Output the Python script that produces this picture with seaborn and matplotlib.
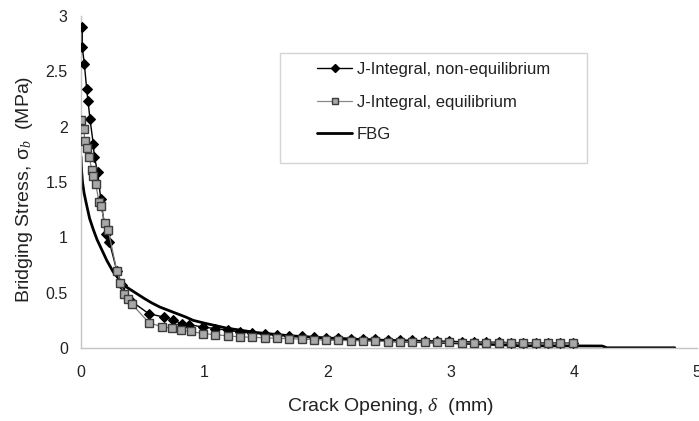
import numpy as np
import pandas as pd
import matplotlib
matplotlib.use("Agg")
import matplotlib.pyplot as plt
from matplotlib.lines import Line2D
from matplotlib.patches import Rectangle
import seaborn as sns

# ---- data ----
ne_x = [0.01, 0.01, 0.027, 0.046, 0.057, 0.073, 0.10, 0.108, 0.135, 0.16, 0.20, 0.23,
        0.29, 0.33, 0.40, 0.55, 0.67, 0.75, 0.82, 0.88, 0.99,
        1.09, 1.19, 1.29, 1.39, 1.49, 1.59, 1.69, 1.79, 1.89, 1.99,
        2.09, 2.19, 2.29, 2.39, 2.49, 2.59, 2.69, 2.79, 2.89, 2.99,
        3.09, 3.19, 3.29, 3.39, 3.49, 3.59, 3.69, 3.79, 3.89, 3.99]
ne_y = [2.90, 2.72, 2.57, 2.34, 2.23, 2.07, 1.84, 1.73, 1.59, 1.35, 1.03, 0.96,
        0.70, 0.57, 0.43, 0.31, 0.28, 0.25, 0.22, 0.21, 0.19,
        0.175, 0.16, 0.145, 0.135, 0.125, 0.118, 0.11, 0.104, 0.098, 0.093,
        0.089, 0.085, 0.082, 0.078, 0.075, 0.072, 0.069, 0.066, 0.063, 0.060,
        0.057, 0.055, 0.053, 0.051, 0.049, 0.048, 0.047, 0.046, 0.045, 0.044]

eq_x = [0.0, 0.024, 0.03, 0.046, 0.067, 0.087, 0.10, 0.12, 0.146, 0.16, 0.195, 0.22,
        0.29, 0.32, 0.35, 0.38, 0.41, 0.55, 0.66, 0.74, 0.81, 0.89, 0.99,
        1.09, 1.19, 1.29, 1.39, 1.49, 1.59, 1.69, 1.79, 1.89, 1.99,
        2.09, 2.19, 2.29, 2.39, 2.49, 2.59, 2.69, 2.79, 2.89, 2.99,
        3.09, 3.19, 3.29, 3.39, 3.49, 3.59, 3.69, 3.79, 3.89, 3.99]
eq_y = [2.06, 1.98, 1.87, 1.81, 1.73, 1.61, 1.55, 1.48, 1.32, 1.28, 1.13, 1.07,
        0.70, 0.59, 0.49, 0.44, 0.40, 0.23, 0.19, 0.18, 0.16, 0.15, 0.13,
        0.12, 0.11, 0.10, 0.097, 0.092, 0.088, 0.084, 0.080, 0.076, 0.070,
        0.068, 0.066, 0.064, 0.062, 0.058, 0.057, 0.056, 0.055, 0.053, 0.050,
        0.048, 0.047, 0.046, 0.045, 0.045, 0.044, 0.044, 0.043, 0.043, 0.042]

fbg_x = [0.0, 0.005, 0.012, 0.025, 0.046, 0.07, 0.10, 0.13, 0.17, 0.21, 0.26, 0.31,
         0.37, 0.44, 0.51, 0.57, 0.64, 0.71, 0.78, 0.85, 0.91, 1.0, 1.18, 1.42,
         1.7, 2.0, 2.5, 3.0, 3.5, 3.55, 4.23, 4.27, 4.82]
fbg_y = [1.73, 1.60, 1.50, 1.40, 1.29, 1.17, 1.07, 0.98, 0.885, 0.79, 0.69, 0.62,
         0.55, 0.50, 0.45, 0.41, 0.37, 0.34, 0.31, 0.28, 0.25, 0.225, 0.18, 0.14,
         0.11, 0.09, 0.065, 0.048, 0.025, 0.02, 0.018, 0.002, 0.002]

labels = ["J-Integral, non-equilibrium", "J-Integral, equilibrium", "FBG"]
x_ticks = [0, 1, 2, 3, 4, 5]
y_ticks = [0, 0.5, 1, 1.5, 2, 2.5, 3]
y_tick_labels = ["0", "0.5", "1", "1.5", "2", "2.5", "3"]

# ---- style ----
sns.set_theme(style="white")
plt.rcParams["font.family"] = ["Liberation Sans", "DejaVu Sans"]
plt.rcParams["mathtext.fontset"] = "custom"
plt.rcParams["mathtext.rm"] = "Liberation Sans"
plt.rcParams["mathtext.it"] = "Liberation Serif:italic"

TXT = "#222222"
fig = plt.figure(figsize=(6.99, 4.21), dpi=100)
ax = fig.add_axes([81 / 699, 1 - 348 / 421, (697 - 81) / 699, (348 - 16) / 421])

df_ne = pd.DataFrame({"x": ne_x, "y": ne_y})
df_eq = pd.DataFrame({"x": eq_x, "y": eq_y})
df_fbg = pd.DataFrame({"x": fbg_x, "y": fbg_y})

sns.lineplot(data=df_ne, x="x", y="y", ax=ax, estimator=None, sort=False,
             color="black", lw=1.0, marker="D", markersize=5.5,
             markerfacecolor="black", markeredgecolor="black", zorder=3)
sns.lineplot(data=df_eq, x="x", y="y", ax=ax, estimator=None, sort=False,
             color="#7a7a7a", lw=0.9, marker="s", markersize=6.0,
             markerfacecolor="#a8a8a8", markeredgecolor="#3c3c3c",
             markeredgewidth=1.0, zorder=4)
sns.lineplot(data=df_fbg, x="x", y="y", ax=ax, estimator=None, sort=False,
             color="black", lw=2.0, zorder=2)

ax.set_xlim(0, 5)
ax.set_ylim(0, 3)
ax.set_xticks(x_ticks)
ax.set_yticks(y_ticks)
ax.set_yticklabels(y_tick_labels)
ax.set_xlabel(r"Crack Opening, $\delta$  (mm)", fontsize=14, color=TXT)
ax.set_ylabel(r"Bridging Stress, σ$_{b}$  (MPa)", fontsize=14, color=TXT)
ax.xaxis.set_label_coords(0.502, (348 - 396) / 332)
ax.yaxis.set_label_coords((35 - 81) / 616, (348 - 189) / 332)

for s in ["top", "right"]:
    ax.spines[s].set_visible(False)
for s in ["left", "bottom"]:
    ax.spines[s].set_color("#c4c4c4")
    ax.spines[s].set_linewidth(1.0)
ax.tick_params(axis="both", direction="out", length=4, width=1.0, color="#c4c4c4",
               labelsize=11.5, labelcolor=TXT)
ax.tick_params(axis="x", pad=8)
ax.tick_params(axis="y", pad=5.5)

# legend
handles = [
    Line2D([], [], color="black", lw=1.0, marker="D", markersize=4,
           markerfacecolor="black", markeredgecolor="black"),
    Line2D([], [], color="#8a8a8a", lw=0.9, marker="s", markersize=4.5,
           markerfacecolor="#a8a8a8", markeredgecolor="#3c3c3c"),
    Line2D([], [], color="black", lw=2.0),
]
fig.patches.append(Rectangle((280 / 699, 1 - 163 / 421), (587 - 280) / 699, (163 - 53) / 421,
                             transform=fig.transFigure, fill=True, facecolor="white",
                             edgecolor="#d4d4d4", lw=1.0, zorder=5))
leg = fig.legend(handles, labels, loc="upper left",
                 bbox_to_anchor=(317 / 699, 1 - 62 / 421), bbox_transform=fig.transFigure,
                 frameon=False, fontsize=12, handlelength=2.1, handletextpad=0.3,
                 labelspacing=1.05, borderpad=0.0, borderaxespad=0.0)
for t in leg.get_texts():
    t.set_color(TXT)

fig.savefig("out.png", dpi=100)
